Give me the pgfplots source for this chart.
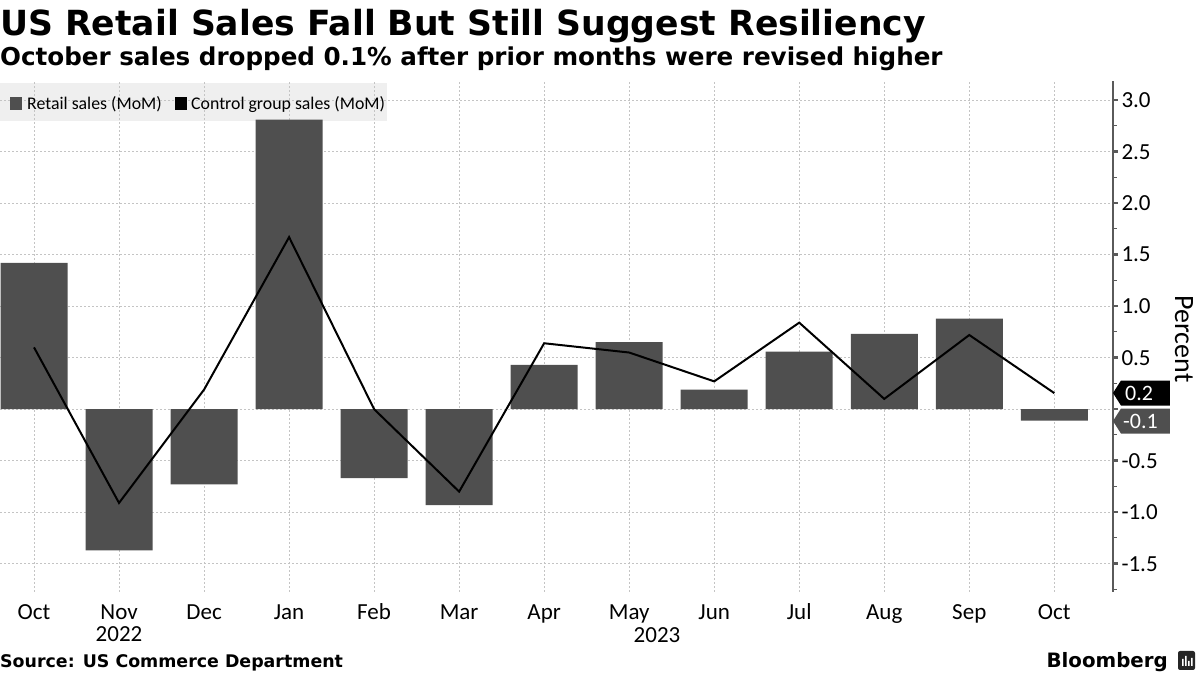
\documentclass[border=0pt]{standalone}
\usepackage{fontspec}
\setmainfont{Carlito}
\newfontfamily\tf{DejaVu Sans}
\usepackage{pgfplots}
\pgfplotsset{compat=1.18}
\definecolor{barc}{HTML}{4F4F4F}
\definecolor{legbg}{HTML}{EFEFEF}
\definecolor{gridc}{HTML}{C4C4C4}
\definecolor{axisc}{HTML}{5A5A5A}
\begin{document}
\begin{tikzpicture}[x=1pt,y=1pt]
% legend background (under grid)
\fill[legbg] (0,554) rectangle (387,592);
\begin{axis}[at={(0,81)}, anchor=south west, scale only axis,
  width=1113pt, height=511pt,
  xmin=-0.4, xmax=12.69, ymin=-1.77, ymax=3.19,
  axis y line*=right, axis x line*=bottom,
  x axis line style={draw=none},
  y axis line style={draw=axisc, line width=1.5pt, -},
  xtick={0,1,2,3,4,5,6,7,8,9,10,11,12},
  xticklabels={Oct,Nov,Dec,Jan,Feb,Mar,Apr,May,Jun,Jul,Aug,Sep,Oct},
  major x tick style={draw=none},
  xticklabel style={font=\fontsize{23}{23}\selectfont, anchor=base, yshift=-23pt},
  ytick={-1.5,-1,-0.5,0,0.5,1,1.5,2,2.5,3},
  yticklabels={-1.5,-1.0,-0.5,,0.5,1.0,1.5,2.0,2.5,3.0},
  minor ytick={-1.75,-1.25,-0.75,-0.25,0.25,0.75,1.25,1.75,2.25,2.75},
  yticklabel style={font=\fontsize{23}{23}\selectfont, anchor=west},
  tick align=outside,
  major tick length=5pt, minor tick length=4pt,
  every major y tick/.style={draw=axisc, line width=2.5pt},
  every minor y tick/.style={draw=axisc, line width=1pt},
  grid=major,
  major grid style={draw=gridc, dash pattern=on 2pt off 2pt, line width=0.7pt},
  minor grid style={draw=none},
]
\addplot[ybar, bar width=67pt, fill=barc, draw=none] coordinates {
 (0,1.42) (1,-1.37) (2,-0.73) (3,2.81) (4,-0.67) (5,-0.93) (6,0.43)
 (7,0.65) (8,0.19) (9,0.56) (10,0.73) (11,0.88) (12,-0.11)};
\addplot[black, line width=2pt, mark=none] coordinates {
 (0,0.60) (1,-0.91) (2,0.19) (3,1.67) (4,0.00) (5,-0.80) (6,0.64)
 (7,0.55) (8,0.27) (9,0.84) (10,0.10) (11,0.72) (12,0.156)};
\coordinate (t1) at (axis cs:12.69,0.157);
\coordinate (t2) at (axis cs:12.69,-0.115);
\end{axis}
% tags
\fill[black] (t1) -- ++(8,12.5) -- ++(49,0) -- ++(0,-25) -- ++(-49,0) -- cycle;
\node[text=white, anchor=west, inner sep=0, font=\fontsize{22}{22}\selectfont] at ([xshift=12pt]t1) {0.2};
\fill[barc] (t2) -- ++(8,12.5) -- ++(49,0) -- ++(0,-25) -- ++(-49,0) -- cycle;
\node[text=white, anchor=west, inner sep=0, font=\fontsize{22}{22}\selectfont] at ([xshift=10pt]t2) {-0.1};
% Percent label
\node[rotate=-90, font=\fontsize{28}{28}\selectfont, inner sep=0] at (1184,336) {Percent};
% legend
\fill[barc] (10,565) rectangle (22,578);
\node[anchor=base west, inner sep=0, font=\fontsize{17.8}{17.8}\selectfont] at (27,565) {Retail sales (MoM)};
\fill[black] (175,565) rectangle (187,578);
\node[anchor=base west, inner sep=0, font=\fontsize{17.8}{17.8}\selectfont] at (191,565) {Control group sales (MoM)};
% years
\node[anchor=base, inner sep=0, font=\fontsize{23}{23}\selectfont] at (119,33) {2022};
\node[anchor=base, inner sep=0, font=\fontsize{23}{23}\selectfont] at (657,32) {2023};
% titles
\node[anchor=base west, inner sep=0, font=\tf\bfseries\fontsize{34.6}{34.6}\selectfont] at (0,639) {US Retail Sales Fall But Still Suggest Resiliency};
\node[anchor=base west, inner sep=0, font=\tf\bfseries\fontsize{24.6}{24.6}\selectfont] at (0,609) {October sales dropped 0.1\% after prior months were revised higher};
% footer
\node[anchor=base west, inner sep=0, font=\tf\bfseries\fontsize{17.4}{17.4}\selectfont] at (0,8) {Source: US Commerce Department};
\node[anchor=base east, inner sep=0, font=\tf\bfseries\fontsize{19.8}{19.8}\selectfont] at (1168,8) {Bloomberg};
\fill[black!85, rounded corners=2pt] (1178,5) rectangle (1195,24);
\fill[white] (1182,9) rectangle (1183.5,16) (1185,9) rectangle (1186.5,19) (1188,9) rectangle (1189.5,14) (1191,9) rectangle (1192.5,17);
\pgfresetboundingbox
\path (0,0) rectangle (1200,675);
\end{tikzpicture}
\end{document}
